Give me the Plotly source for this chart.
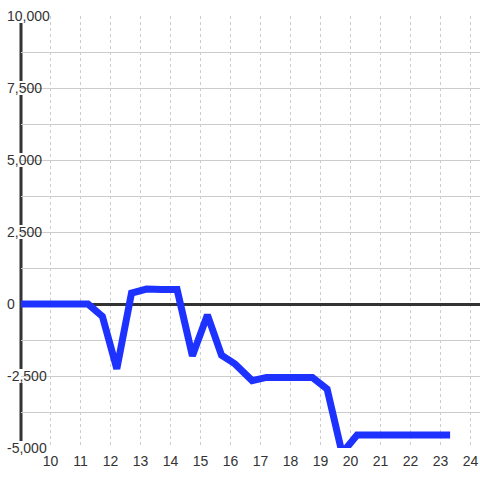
import plotly.graph_objects as go

# ---- data ----
hours = [8.88, 9.5, 10.0, 10.5, 11.0, 11.25, 11.73, 12.21, 12.7, 13.2, 13.7, 14.22,
         14.73, 15.23, 15.7, 16.15, 16.72, 17.2, 17.7, 18.2, 18.73, 19.22, 19.72,
         20.22, 20.7, 21.2, 21.7, 22.2, 22.7, 23.32]
values = [0, 0, 0, 0, 0, 0, -430, -2250, 380, 520, 500, 500,
          -1800, -380, -1780, -2080, -2660, -2550, -2550, -2550, -2550, -2950, -5180,
          -4550, -4550, -4550, -4550, -4550, -4550, -4550]

x_tick_vals = list(range(10, 25))
x_tick_text = [str(v) for v in x_tick_vals]
y_tick_vals = [10000, 7500, 5000, 2500, 0, -2500, -5000]
y_tick_text = ["10,000", "7,500", "5,000", "2,500", "0", "-2,500", "-5,000"]

# ---- layout geometry ----
W, H = 480, 480
ML, MR, MT, MB = 21, 0, 16, 32
PW, PH = W - ML - MR, H - MT - MB
Y_MIN, Y_MAX = -5000, 10000
X_MIN = 10 - 29.5 / 30
X_MAX = X_MIN + PW / 30

LINE_COLOR = "#1e32ff"
GRID = "#cccccc"
TEXT = "#333333"
FONT = "Liberation Sans, Arial, sans-serif"

fig = go.Figure()
fig.add_trace(go.Scatter(
    x=hours, y=values, mode="lines",
    line=dict(color=LINE_COLOR, width=7),
    cliponaxis=False, hoverinfo="skip", showlegend=False,
))

shapes = []
# dark vertical axis bar at the left edge of the plot
shapes.append(dict(type="line", xref="paper", yref="paper", x0=0, x1=0, y0=0, y1=1,
                   line=dict(color=TEXT, width=3), layer="between"))


def text_width(s):
    w = 0.0
    for ch in s:
        if ch.isdigit():
            w += 7.8
        elif ch == ",":
            w += 3.9
        elif ch == "-":
            w += 4.7
    return w


LABEL_X = 7  # label start, figure px
# white label backgrounds (mask gridlines and the axis bar behind the labels)
for v, t in zip(y_tick_vals, y_tick_text):
    x0px = 1
    x1px = LABEL_X + text_width(t) + 1.5
    yc = (v - Y_MIN) / (Y_MAX - Y_MIN)
    shapes.append(dict(type="rect", xref="paper", yref="paper",
                       x0=(x0px - ML) / PW, x1=(x1px - ML) / PW,
                       y0=yc - 7 / PH, y1=yc + 7 / PH,
                       fillcolor="white", line=dict(width=0), layer="between"))

fig.update_layout(
    width=W, height=H,
    margin=dict(l=ML, r=MR, t=MT, b=MB, pad=0),
    paper_bgcolor="white", plot_bgcolor="white",
    font=dict(family=FONT, size=14, color=TEXT),
    showlegend=False,
    shapes=shapes,
    xaxis=dict(
        range=[X_MIN, X_MAX], tickmode="array", tickvals=x_tick_vals, ticktext=x_tick_text,
        showgrid=True, gridcolor=GRID, gridwidth=1, griddash="dot",
        zeroline=False, showline=False, ticks="", ticklabelstandoff=3,
        ticklabeloverflow="allow",
        tickfont=dict(family=FONT, size=14, color=TEXT),
    ),
    yaxis=dict(
        range=[Y_MIN, Y_MAX], tickmode="array", tickvals=y_tick_vals, ticktext=y_tick_text,
        showgrid=True, gridcolor=GRID, gridwidth=1,
        minor=dict(dtick=1250, tick0=0, showgrid=True, gridcolor=GRID, gridwidth=1),
        zeroline=True, zerolinecolor=TEXT, zerolinewidth=3,
        showline=False, ticks="",
        ticklabelposition="inside", ticklabelstandoff=-(ML + 3 - LABEL_X),
        ticklabeloverflow="allow",
        tickfont=dict(family=FONT, size=14, color=TEXT),
    ),
)

fig.write_html(
    "out.html",
    config={"displayModeBar": False},
    post_script="document.body.style.margin='0';document.body.style.overflow='hidden';",
)
